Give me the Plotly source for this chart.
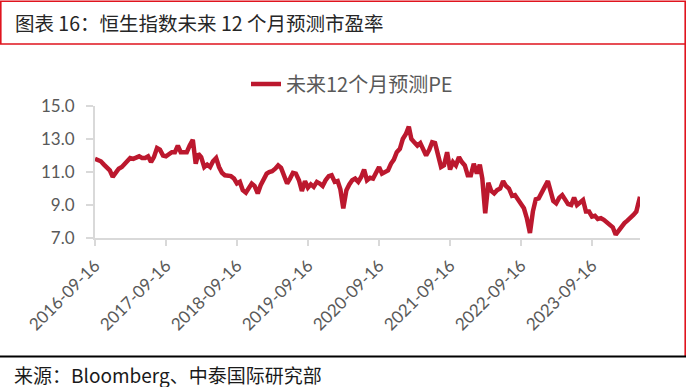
import plotly.graph_objects as go

# ---- data (semi-monthly readings) ----
pe_2016 = [11.8, 11.75, 11.65, 11.45, 11.25, 11.1, 10.7]
pe_2017 = [11.0, 11.2, 11.3, 11.5, 11.65, 11.85, 11.8, 11.85, 11.95, 11.85, 11.85, 11.95,
           11.6, 11.9, 12.45, 12.35, 12.0, 11.95, 12.1, 12.2, 12.2, 12.6, 12.2, 12.2]
pe_2018 = [12.2, 12.6, 12.95, 11.5, 12.1, 11.9, 11.3, 11.45, 11.3, 11.65, 11.85, 11.3,
           10.95, 10.8, 10.8, 10.75, 10.6, 10.3, 10.4, 9.9, 9.75, 10.05, 10.3, 10.15]
pe_2019 = [9.7, 10.2, 10.6, 10.9, 11.0, 11.05, 11.2, 11.4, 11.25, 10.75, 10.3, 10.6,
           10.95, 10.9, 10.5, 9.85, 10.45, 10.05, 10.25, 10.1, 10.4, 10.3, 10.15, 10.5]
pe_2020 = [10.75, 10.8, 10.4, 10.45, 9.95, 8.8, 9.9, 10.25, 10.5, 10.6, 10.4, 10.7,
           11.15, 10.5, 10.65, 10.6, 10.9, 11.3, 10.9, 11.0, 11.1, 11.5, 11.75, 12.2]
pe_2021 = [12.4, 13.0, 13.3, 13.75, 13.0, 12.8, 12.6, 12.75, 12.4, 12.0, 12.35, 12.8,
           12.75, 12.05, 11.3, 11.4, 12.2, 11.15, 11.6, 11.4, 11.9, 11.6, 11.4, 10.8]
pe_2022 = [10.8, 11.5, 10.9, 11.45, 10.6, 8.5, 10.35, 9.85, 9.7, 9.9, 10.0, 10.45,
           10.15, 10.0, 9.55, 9.6, 9.3, 9.05, 8.8, 8.2, 7.3, 8.6, 9.35, 9.4]
pe_2023 = [9.85, 10.1, 10.45, 9.75, 9.25, 9.1, 9.45, 9.6, 9.3, 9.05, 9.0, 9.45,
           9.0, 9.15, 9.3, 8.6, 8.6, 8.3, 8.35, 8.15, 8.2, 8.1, 7.95, 7.8]
pe_2024 = [7.65, 7.2, 7.45, 7.75, 7.9, 8.05, 8.2, 8.4, 8.6, 9.3, 9.5]

pe = pe_2016 + pe_2017 + pe_2018 + pe_2019 + pe_2020 + pe_2021 + pe_2022 + pe_2023 + pe_2024

# semi-monthly observation dates (1st and 16th), 2016-09-16 .. 2024-05-16, plus last day
dates = [f"{y}-{m:02d}-{d:02d}" for y in range(2016, 2025) for m in range(1, 13) for d in (1, 16)]
dates = [d for d in dates if "2016-09-16" <= d <= "2024-05-16"] + ["2024-05-20"]

tick_dates = ["2016-09-16", "2017-09-16", "2018-09-16", "2019-09-16",
              "2020-09-16", "2021-09-16", "2022-09-16", "2023-09-16"]
y_ticks = [7, 9, 11, 13, 15]
y_tick_text = ["7.0", "9.0", "11.0", "13.0", "15.0"]

series_name = "未来12个月预测PE"
title_text = "图表 16：恒生指数未来 12 个月预测市盈率"
source_text = "来源：Bloomberg、中泰国际研究部"

# ---- figure ----
W, H = 686, 387
PL, PR, PT, PB = 95, 640, 106, 238  # plot area in pixels


def px(x):
    return (x - PL) / (PR - PL)


def py(y):
    return (PB - y) / (PB - PT)


CJK = "Noto Sans CJK SC"
TICKF = "Lato, Noto Sans CJK SC"
GRAY = "#595959"
AXIS = "#D9D9D9"

fig = go.Figure()
fig.add_trace(go.Scatter(
    x=dates, y=pe, mode="lines", name=series_name,
    line=dict(color="#BC182E", width=4.5),
))

fig.update_layout(
    width=W, height=H,
    margin=dict(l=PL, r=W - PR, t=PT, b=H - PB, pad=0),
    paper_bgcolor="white", plot_bgcolor="white",
    showlegend=True,
    legend=dict(
        orientation="h", x=px(246), y=py(84), xanchor="left", yanchor="middle",
        font=dict(family=CJK, size=20, color=GRAY), bgcolor="rgba(0,0,0,0)",
    ),
    xaxis=dict(
        type="date", range=[dates[0], dates[-1]],
        tickmode="array", tickvals=tick_dates, ticktext=tick_dates,
        tickangle=-45, showgrid=False, zeroline=False,
        showline=True, linecolor=AXIS, linewidth=2,
        ticks="outside", ticklen=6, tickcolor=AXIS, tickwidth=2,
        tickfont=dict(family=TICKF, size=17, color=GRAY),
        ticklabelstandoff=3,
    ),
    yaxis=dict(
        range=[7, 15], tickmode="array", tickvals=y_ticks, ticktext=y_tick_text,
        showgrid=False, zeroline=False,
        showline=True, linecolor=AXIS, linewidth=2,
        ticks="outside", ticklen=7, tickcolor=AXIS, tickwidth=2,
        tickfont=dict(family=TICKF, size=17, color=GRAY),
        ticklabelstandoff=8,
    ),
)

RED = "#E0141E"
shapes = [
    # title frame
    dict(type="rect", xref="paper", yref="paper", x0=px(0.8), x1=px(685.2), y0=py(44), y1=py(1.2),
         line=dict(color=RED, width=1.6), fillcolor="rgba(0,0,0,0)", layer="above"),
    # right red edge
    dict(type="line", xref="paper", yref="paper", x0=px(685.2), x1=px(685.2), y0=py(44), y1=py(356),
         line=dict(color=RED, width=1.6)),
    # bottom black rule
    dict(type="line", xref="paper", yref="paper", x0=px(0), x1=px(686), y0=py(356.5), y1=py(356.5),
         line=dict(color="black", width=2)),
]
fig.update_layout(shapes=shapes)

fig.add_annotation(x=px(13), y=py(23), xref="paper", yref="paper", text=title_text,
                   showarrow=False, xanchor="left", yanchor="middle",
                   font=dict(family=CJK, size=19.5, color="#262626"))
fig.add_annotation(x=px(12), y=py(374), xref="paper", yref="paper", text=source_text,
                   showarrow=False, xanchor="left", yanchor="middle",
                   font=dict(family=CJK, size=19, color="#1a1a1a"))

fig.write_html(
    "out.html",
    config={"displayModeBar": False},
    post_script="document.body.style.margin='0';document.body.style.padding='0';",
)
